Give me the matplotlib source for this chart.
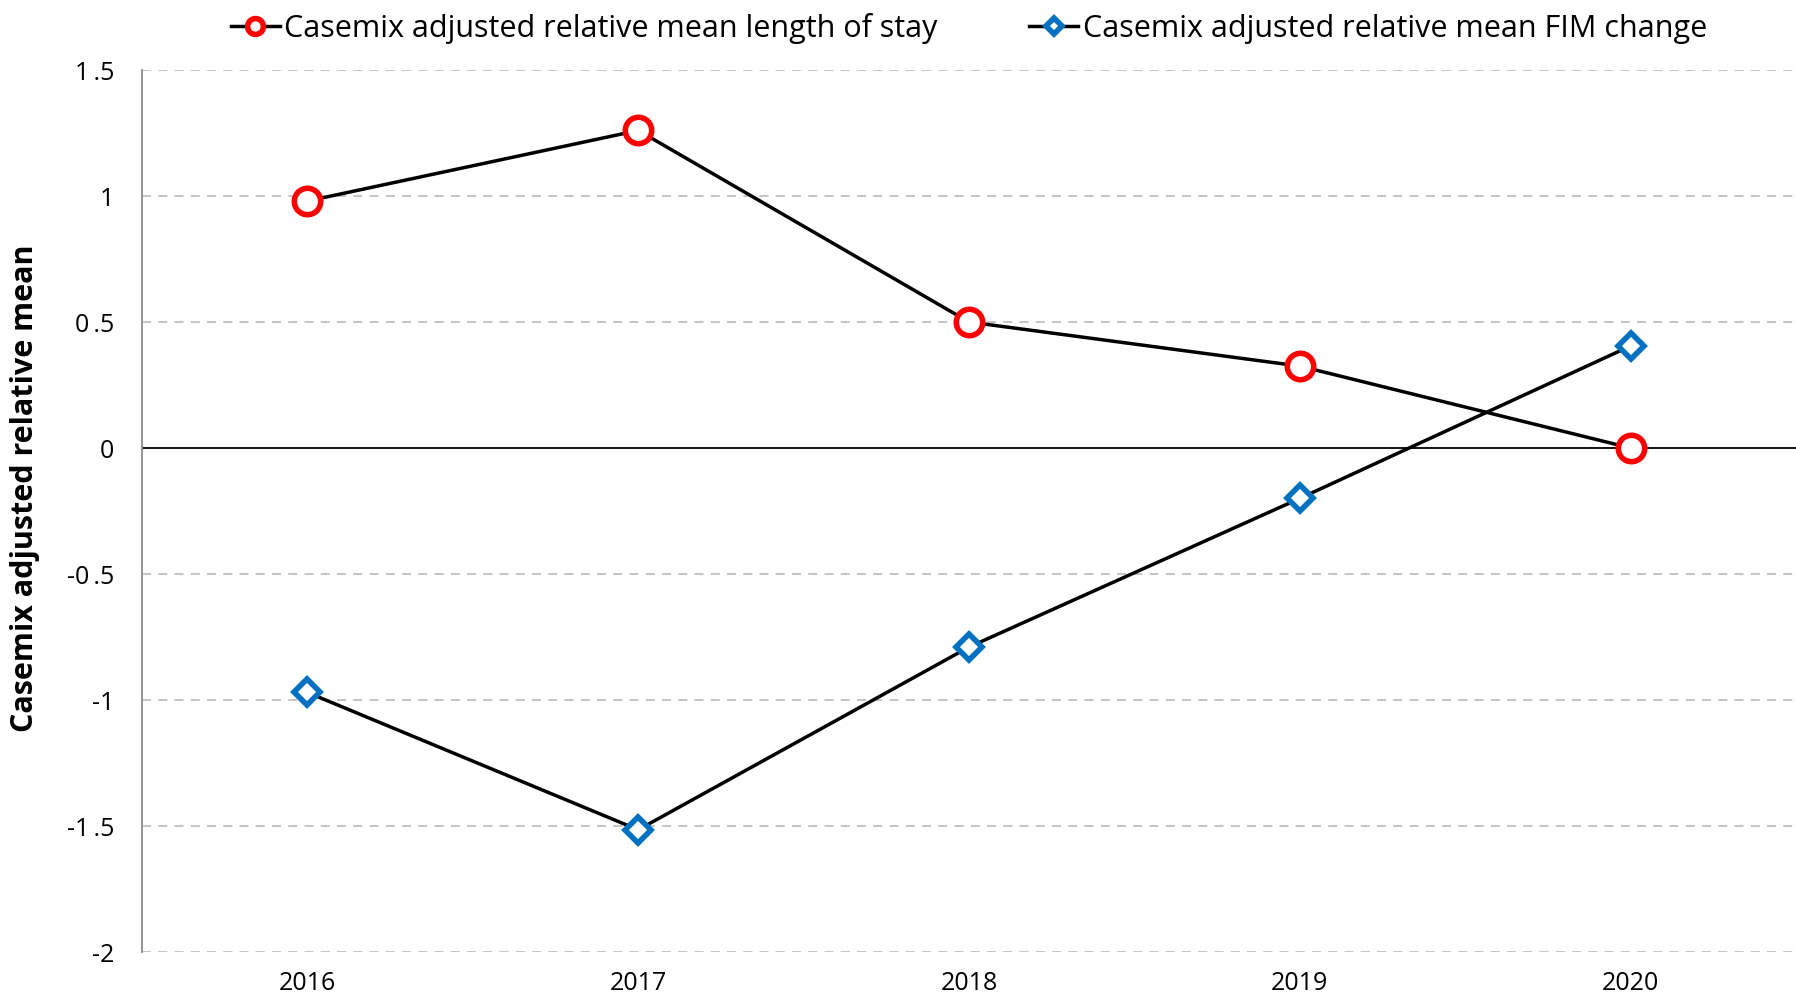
import matplotlib.pyplot as plt

years = ['2016', '2017', '2018', '2019', '2020']
los = [0.98, 1.26, 0.50, 0.325, 0.0]
fim = [-0.97, -1.515, -0.79, -0.2, 0.405]
y_ticks = [-2, -1.5, -1, -0.5, 0, 0.5, 1, 1.5]
y_labels = ['-2', '-1\u2009.5', '-1', '-0\u2009.5', '0', '0\u2009.5', '1', '1\u2009.5']

plt.rcParams['font.family'] = ['Open Sans', 'DejaVu Sans']

fig = plt.figure(figsize=(17.96, 10.02), dpi=100)
ax = fig.add_axes([142 / 1796, 1 - 952 / 1002, 1 - 142 / 1796, (952 - 70) / 1002])

x = range(len(years))
ax.plot(x, los, color='black', lw=2.5, marker='o', ms=19, mfc='white',
        mec='#FF0000', mew=4, label='Casemix adjusted relative mean length of stay', zorder=4)
ax.plot(x, fim, color='black', lw=2.5, marker='D', ms=13, mfc='white',
        mec='#0070C0', mew=4, label='Casemix adjusted relative mean FIM change', zorder=4)

ax.set_xlim(-0.5, 4.5)
ax.set_ylim(-2, 1.5)
ax.set_xticks(list(x))
ax.set_xticklabels(years, fontsize=18)
ax.set_yticks(y_ticks)
ax.set_yticklabels(y_labels, fontsize=18)
ax.tick_params(length=0, pad=20)
ax.tick_params(axis='x', pad=14)

for t in y_ticks:
    if t == 0:
        ax.axhline(0, color='black', lw=1.3, zorder=2)
    else:
        ax.axhline(t, color='#BFBFBF', lw=1.3, ls=(0, (5, 4)), zorder=1)

for s in ['top', 'right', 'bottom']:
    ax.spines[s].set_visible(False)
ax.spines['left'].set_color('#8C8C8C')
ax.spines['left'].set_linewidth(1.3)

fig.text(25 / 1796, 1 - 488 / 1002, 'Casemix adjusted relative mean', rotation=90,
         ha='center', va='center', fontsize=22, fontweight='bold')

ax.legend(loc='lower center', bbox_to_anchor=(0.5, 1.0), ncol=2, frameon=False,
          fontsize=22, handlelength=1.6, columnspacing=3.0, handletextpad=0.15,
          borderaxespad=0.45, markerscale=0.6)

fig.savefig('out.png', dpi=100)
